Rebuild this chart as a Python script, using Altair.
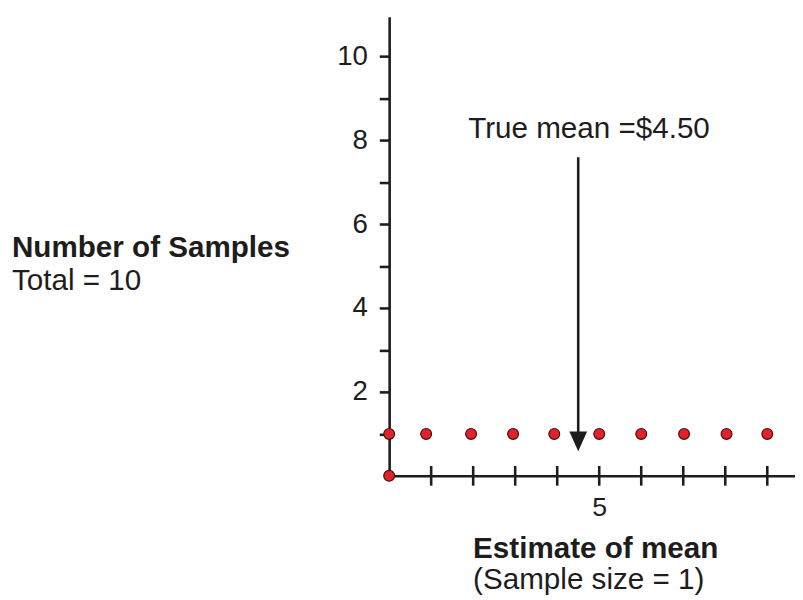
import altair as alt
import pandas as pd

# Data
estimates = [0.0, 0.88, 1.95, 2.95, 3.93, 5.0, 6.0, 7.02, 8.03, 9.0]
counts = [1, 1, 1, 1, 1, 1, 1, 1, 1, 1]
origin_x = [0]
origin_y = [0]
x_ticks = [1, 2, 3, 4, 5, 6, 7, 8, 9]
y_ticks = [1, 2, 3, 4, 5, 6, 7, 8, 9, 10]
true_mean = 4.5
arrow_top = 7.6
arrow_bottom = 1.0
arrow_head = 0.82

FONT = "Liberation Sans"
INK = "#1e1c1c"

xs = alt.Scale(domain=[0, 9.66], nice=False, zero=False)
ys = alt.Scale(domain=[0, 10.95], nice=False, zero=False)

dots_df = pd.DataFrame({"x": estimates + origin_x, "y": counts + origin_y})
ticks_df = pd.DataFrame({"x": x_ticks, "lo": [-0.235] * len(x_ticks), "hi": [0.235] * len(x_ticks)})
arrow_df = pd.DataFrame({"x": [true_mean], "y": [arrow_top], "y2": [arrow_bottom], "yh": [arrow_head]})

base_axis_x = alt.Axis(
    values=[5], ticks=False, domainColor=INK, domainWidth=2.6, grid=False,
    labelFont=FONT, labelFontSize=27, labelColor=INK, labelPadding=19, title=None,
)
base_axis_y = alt.Axis(
    values=y_ticks, tickSize=10, tickWidth=2.6, tickColor=INK, domainColor=INK,
    domainWidth=2.6, grid=False, labelFont=FONT, labelFontSize=28, labelColor=INK,
    labelPadding=12, labelExpr="datum.value % 2 == 0 ? datum.label : ''", title=None,
)

axes = alt.Chart(dots_df).mark_point(opacity=0).encode(
    x=alt.X("x:Q", scale=xs, axis=base_axis_x),
    y=alt.Y("y:Q", scale=ys, axis=base_axis_y),
)

xtick_marks = alt.Chart(ticks_df).mark_rule(color=INK, strokeWidth=2.6).encode(
    x=alt.X("x:Q", scale=xs), y=alt.Y("lo:Q", scale=ys), y2="hi:Q"
)

arrow_line = alt.Chart(arrow_df).mark_rule(color=INK, strokeWidth=2.6).encode(
    x=alt.X("x:Q", scale=xs), y=alt.Y("y:Q", scale=ys), y2="y2:Q"
)
arrow_tip = alt.Chart(arrow_df).mark_point(
    shape="M-0.9,-1L0,1L0.9,-1Z", filled=True, color=INK, size=400, opacity=1
).encode(x=alt.X("x:Q", scale=xs), y=alt.Y("yh:Q", scale=ys))

dots = alt.Chart(dots_df).mark_circle(
    size=120, color="#e12228", stroke="#4a0d0d", strokeWidth=1.2, opacity=1
).encode(x=alt.X("x:Q", scale=xs), y=alt.Y("y:Q", scale=ys))


def label(txt, px, py, bold=False, size=30):
    return alt.Chart(pd.DataFrame({"t": [txt]})).mark_text(
        font=FONT, fontSize=size, fontWeight="bold" if bold else "normal",
        color=INK, align="left", baseline="alphabetic",
    ).encode(text="t:N", x=alt.value(px), y=alt.value(py))


texts = (
    label("Number of Samples", -382, 243, True)
    + label("Total = 10", -382, 277)
    + label("True mean =$4.50", 80, 123)
    + label("Estimate of mean", 85, 548, True)
    + label("(Sample size = 1)", 85, 580)
)

chart = alt.layer(axes, xtick_marks, arrow_line, arrow_tip, dots, texts).properties(
    width=411, height=465,
    autosize=alt.AutoSizeParams(type="none"),
    padding={"left": 386, "top": 5, "right": 0, "bottom": 122},
).configure_view(stroke=None)

chart.save("out.html", embed_options={"renderer": "svg", "actions": False})
